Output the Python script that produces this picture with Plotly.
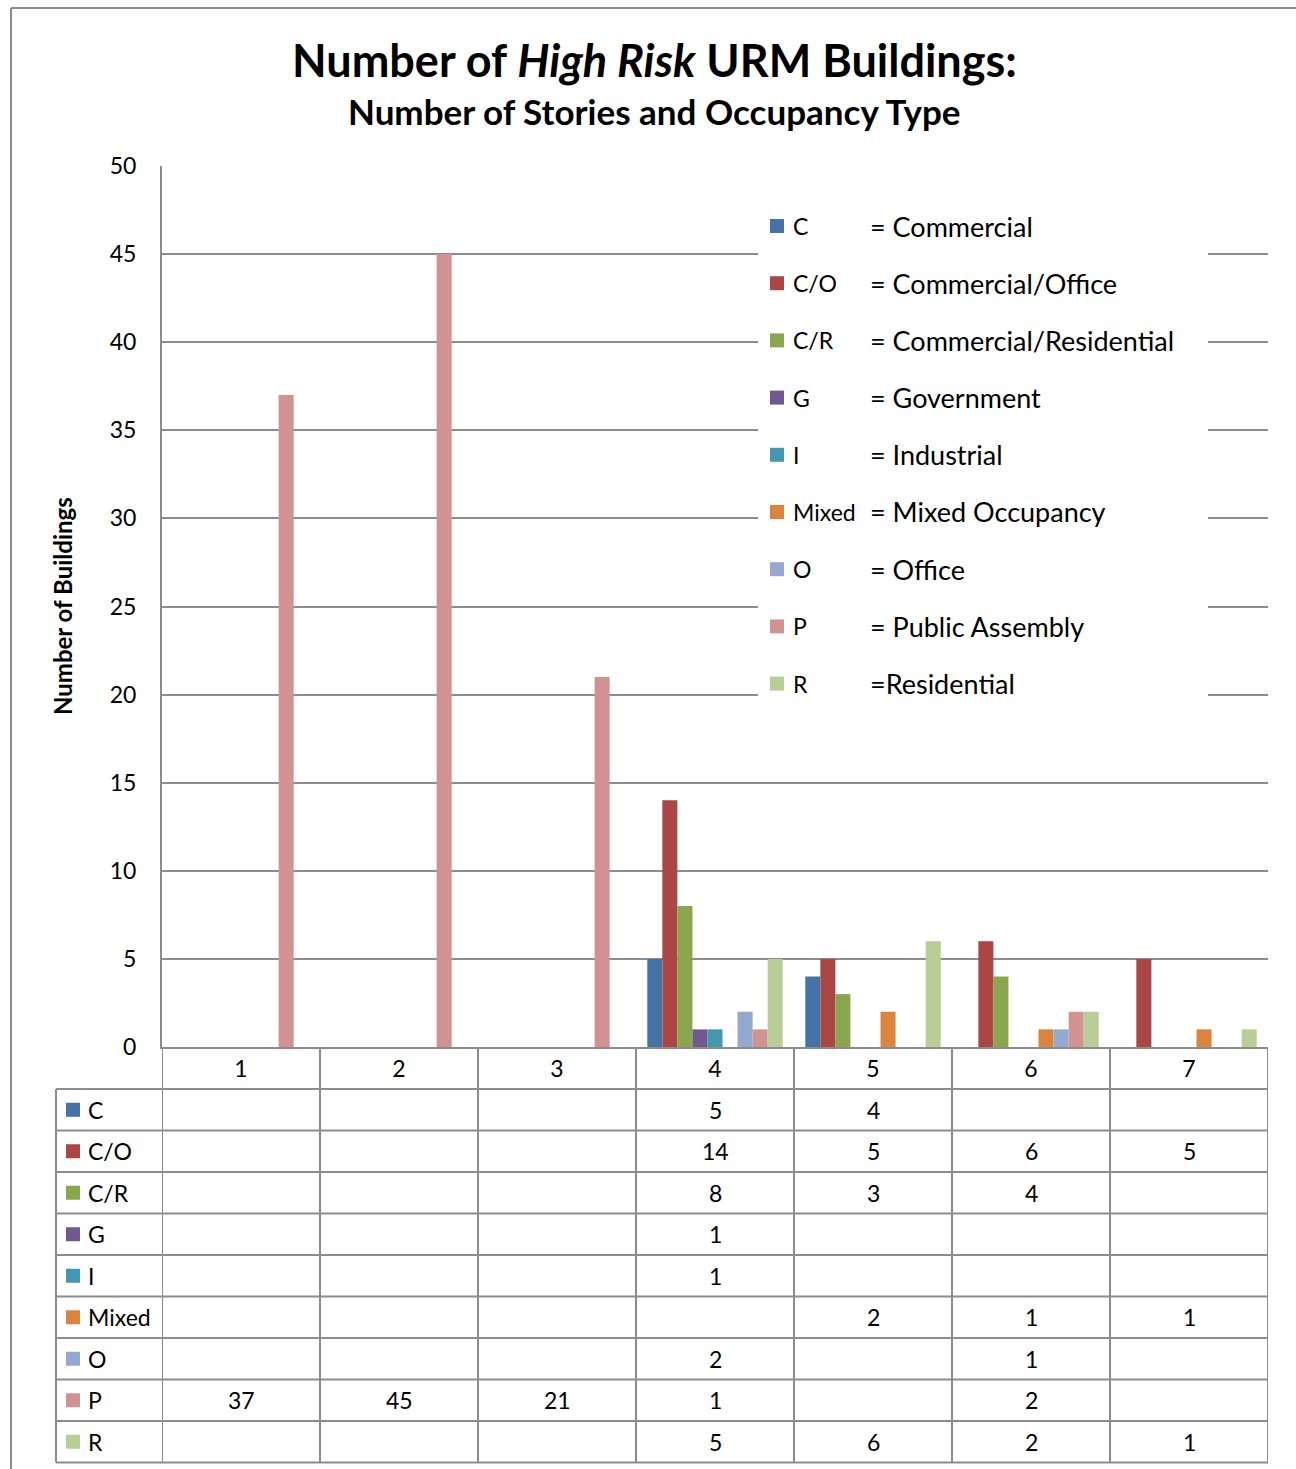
import plotly.graph_objects as go

# Occupancy codes, descriptions and colours
codes = ["C", "C/O", "C/R", "G", "I", "Mixed", "O", "P", "R"]
descriptions = ["= Commercial", "= Commercial/Office", "= Commercial/Residential",
                "= Government", "= Industrial", "= Mixed Occupancy", "= Office",
                "= Public Assembly", "=Residential"]
colors = ["#4572A7", "#AA4643", "#89A54E", "#71588F", "#4198AF",
          "#DB843D", "#93A9CF", "#D19392", "#B9CD96"]

# Number of stories (categories)
stories = [1, 2, 3, 4, 5, 6, 7]

# Building counts per occupancy type, by number of stories (None = no buildings)
counts = {
    "C":     [None, None, None, 5, 4, None, None],
    "C/O":   [None, None, None, 14, 5, 6, 5],
    "C/R":   [None, None, None, 8, 3, 4, None],
    "G":     [None, None, None, 1, None, None, None],
    "I":     [None, None, None, 1, None, None, None],
    "Mixed": [None, None, None, None, 2, 1, 1],
    "O":     [None, None, None, 2, None, 1, None],
    "P":     [37, 45, 21, 1, None, 2, None],
    "R":     [None, None, None, 5, 6, 2, 1],
}

W, H = 1296, 1469
FONT = "Lato"
GRID = "#8c8c8c"

def px(x):
    return x / W

def py(y):
    return 1 - y / H

# plot area in pixels
PL, PR, PT, PB = 162, 1268, 166, 1047

fig = go.Figure()
for code, col in zip(codes, colors):
    fig.add_trace(go.Bar(x=stories, y=counts[code], name=code,
                         marker=dict(color=col, line=dict(width=0)),
                         showlegend=False))

shapes = []
annotations = []

# outer frame
shapes.append(dict(type="line", xref="paper", yref="paper",
                   x0=px(11), x1=px(11), y0=py(8), y1=py(H), line=dict(color=GRID, width=2)))
shapes.append(dict(type="line", xref="paper", yref="paper",
                   x0=px(11), x1=1, y0=py(8), y1=py(8), line=dict(color=GRID, width=2)))

# titles
annotations.append(dict(xref="paper", yref="paper", x=px(654), y=py(60),
                        text="<b>Number of <i>High Risk</i> URM Buildings:</b>",
                        showarrow=False, font=dict(family=FONT, size=45, color="black"),
                        xanchor="center", yanchor="middle"))
annotations.append(dict(xref="paper", yref="paper", x=px(654), y=py(111),
                        text="<b>Number of Stories and Occupancy Type</b>",
                        showarrow=False, font=dict(family=FONT, size=35, color="black"),
                        xanchor="center", yanchor="middle"))
annotations.append(dict(xref="paper", yref="paper", x=px(62), y=py(606),
                        text="<b>Number of Buildings</b>", textangle=-90,
                        showarrow=False, font=dict(family=FONT, size=24, color="black"),
                        xanchor="center", yanchor="middle"))

# legend box with code and description columns
shapes.append(dict(type="rect", xref="paper", yref="paper", layer="above",
                   x0=px(758), x1=px(1208), y0=py(190), y1=py(722),
                   fillcolor="white", line=dict(width=0)))
for i, (code, desc, col) in enumerate(zip(codes, descriptions, colors)):
    yc = 226 + i * 57.2
    shapes.append(dict(type="rect", xref="paper", yref="paper", layer="above",
                       x0=px(770), x1=px(784), y0=py(yc - 7), y1=py(yc + 7),
                       fillcolor=col, line=dict(width=0)))
    annotations.append(dict(xref="paper", yref="paper", x=px(791), y=py(yc),
                            text=code, showarrow=False, xanchor="left", yanchor="middle",
                            font=dict(family=FONT, size=23, color="black")))
    annotations.append(dict(xref="paper", yref="paper", x=px(868), y=py(yc),
                            text=desc, showarrow=False, xanchor="left", yanchor="middle",
                            font=dict(family=FONT, size=27, color="black")))

# data table beneath the chart
ROW_TOP, ROW_H = 1089, 41.5
TL = 56
table_bottom = ROW_TOP + ROW_H * len(codes)
# horizontal lines
for r in range(len(codes) + 1):
    y = ROW_TOP + r * ROW_H
    shapes.append(dict(type="line", xref="paper", yref="paper",
                       x0=px(TL), x1=px(PR), y0=py(y), y1=py(y),
                       line=dict(color=GRID, width=2)))
# vertical lines
shapes.append(dict(type="line", xref="paper", yref="paper",
                   x0=px(TL), x1=px(TL), y0=py(ROW_TOP), y1=py(table_bottom),
                   line=dict(color=GRID, width=2)))
for b in range(len(stories) + 1):
    xb = stories[0] - 0.5 + b
    shapes.append(dict(type="line", xref="x", yref="paper",
                       x0=xb, x1=xb, y0=py(PB), y1=py(table_bottom),
                       line=dict(color=GRID, width=2)))
# row labels and cell values
for r, (code, col) in enumerate(zip(codes, colors)):
    yc = ROW_TOP + (r + 0.5) * ROW_H
    shapes.append(dict(type="rect", xref="paper", yref="paper",
                       x0=px(66), x1=px(80), y0=py(yc - 7), y1=py(yc + 7),
                       fillcolor=col, line=dict(width=0)))
    annotations.append(dict(xref="paper", yref="paper", x=px(86), y=py(yc),
                            text=code, showarrow=False, xanchor="left", yanchor="middle",
                            font=dict(family=FONT, size=23, color="black")))
    for s, v in zip(stories, counts[code]):
        if v is None:
            continue
        annotations.append(dict(xref="x", yref="paper", x=s, y=py(yc),
                                text=str(v), showarrow=False,
                                xanchor="center", yanchor="middle",
                                font=dict(family=FONT, size=23, color="black")))

fig.update_layout(
    width=W, height=H,
    margin=dict(l=0, r=0, t=0, b=0, autoexpand=False),
    paper_bgcolor="white", plot_bgcolor="white",
    barmode="group", bargap=1.5 / 10.5, bargroupgap=0,
    shapes=shapes, annotations=annotations,
    font=dict(family=FONT, color="black"),
    xaxis=dict(domain=[px(PL), px(PR)], range=[0.5, 7.5],
               tickvals=stories, ticktext=[str(s) for s in stories],
               showgrid=False, zeroline=False,
               showline=True, linecolor=GRID, linewidth=2,
               ticks="", ticklabelstandoff=0,
               tickfont=dict(family=FONT, size=23, color="black")),
    yaxis=dict(domain=[py(PB), py(PT)], range=[0, 50], dtick=5,
               showgrid=True, gridcolor=GRID, gridwidth=1.5,
               zeroline=False, showline=True, linecolor=GRID, linewidth=2,
               ticks="", ticklabelstandoff=19,
               tickfont=dict(family=FONT, size=23, color="black")),
)

fig.write_html("out.html")
